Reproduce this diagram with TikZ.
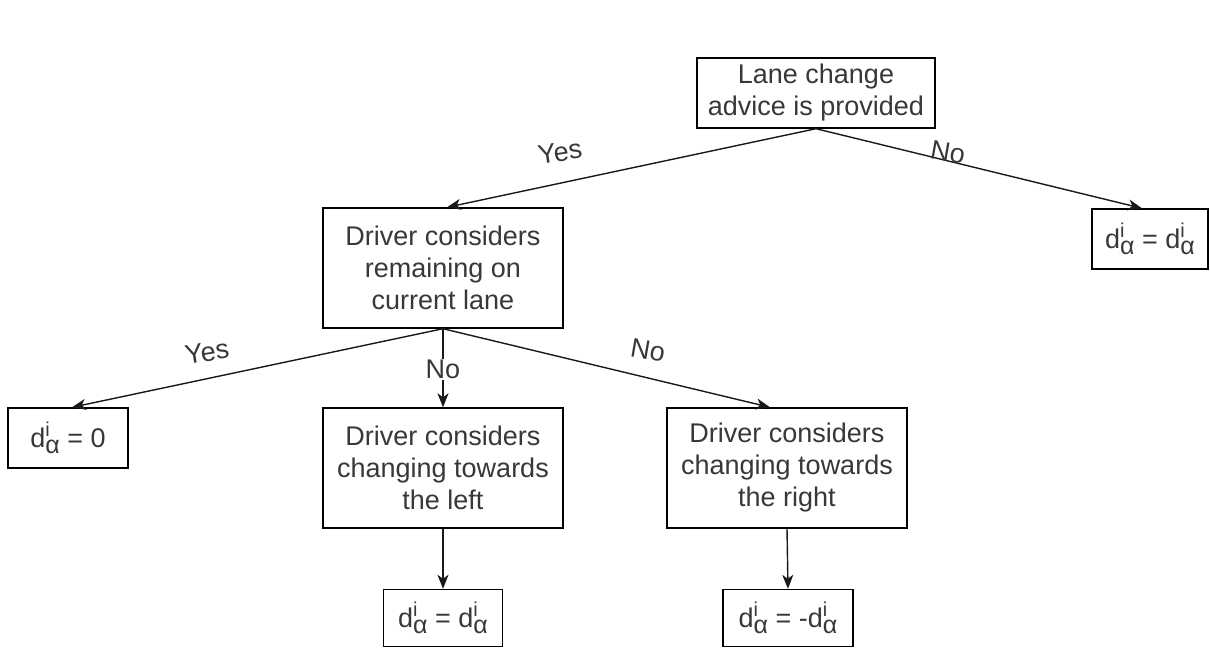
\documentclass[tikz,border=0pt]{standalone}
\usepackage{fontspec}
\setmainfont{Liberation Sans}
\usetikzlibrary{arrows.meta}

% d with superscript i and subscript alpha, stacked
\newcommand{\dia}{d\rlap{\raisebox{0.40em}{\fontsize{20}{20}\selectfont i}}\raisebox{-0.22em}{\fontsize{25}{25}\selectfont α}}

\tikzset{
  box/.style={draw=black, line width=1.4pt, fill=white, inner sep=0pt,
    align=center, text=black!78, font=\fontsize{27}{32}\selectfont},
  lbl/.style={text=black!78, inner sep=1pt, font=\fontsize{27}{32}\selectfont},
  conn/.style={line width=1.4pt, draw=black!90},
  arr/.style={conn, -{Stealth[length=14pt, width=11pt, inset=4pt]}}
}

\begin{document}
\begin{tikzpicture}[x=1pt, y=-1pt]
  \path[use as bounding box] (0,0) rectangle (1210,648);

  % decision boxes
  \node[box, minimum width=238, minimum height=70] (root) at (816,93)
    {Lane change\\advice is provided};
  \node[box, minimum width=240, minimum height=120] (drv) at (443,268)
    {Driver considers\\remaining on\\current lane};
  \node[box, minimum width=240, minimum height=120] (left) at (443,468)
    {Driver considers\\changing towards\\the left};
  \node[box, minimum width=240, minimum height=120] (right) at (787,468)
    {Driver considers\\changing towards\\the right};

  % outcome boxes
  \node[box, minimum width=116, minimum height=60] (keepA) at (1150,239) {\dia{} = \dia};
  \node[box, minimum width=120, minimum height=60] (zero) at (68,438) {\dia{} = 0};
  \node[box, minimum width=119, minimum height=57] (keepB) at (443,618) {\dia{} = \dia};
  \node[box, minimum width=130, minimum height=57] (neg) at (788,618) {\dia{} = -\dia};

  % connectors
  \draw[arr] (root.south) -- ([xshift=4]drv.north);
  \draw[arr] (root.south) -- ([xshift=-8]keepA.north);
  \draw[arr] (drv.south) -- ([xshift=4]zero.north);
  \draw[arr] (drv.south) -- node[lbl, fill=white, pos=0.52] (noMid) {No} (left.north);
  \draw[arr] (drv.south) -- ([xshift=-17]right.north);
  \draw[arr] (left.south) -- (keepB.north);
  \draw[arr] (right.south) -- (neg.north);

  % branch labels
  \node[lbl, rotate=9] (yesTop) at (560,152) {Yes};
  \node[lbl, rotate=-10] (noTop) at (948,152) {No};
  \node[lbl, rotate=9] (yesLow) at (207,352) {Yes};
  \node[lbl, rotate=-10] (noLow) at (648,350) {No};
\end{tikzpicture}
\end{document}
